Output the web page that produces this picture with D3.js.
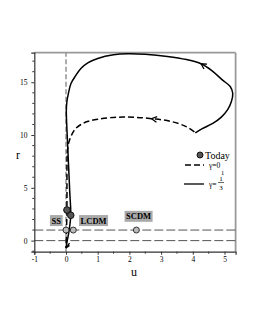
<!DOCTYPE html>
<html><head><meta charset="utf-8">
<script src="https://cdn.jsdelivr.net/npm/d3@7"></script>
<style>body{margin:0;background:#fff}svg{display:block}text{font-family:"Liberation Serif","DejaVu Serif",serif}</style>
</head><body>
<script>
// Data (u, r)
const curveGamma0 = [[4.05,10.3],[3.79,10.8],[3.3,11.3],[2.7,11.55],[2.2,11.68],[1.8,11.7],[1.4,11.65],[1.0,11.5],[0.7,11.3],[0.47,11.0],[0.3,10.6],[0.21,10.2],[0.12,9.6],[0.07,9.06],[0.04,8.3],[0.03,7.0],[0.03,5.0],[0.03,3.8],[0.03,2.9],[0.02,1.5],[0.01,0.4],[0.0,-0.7]];
const curveGamma13 = [[4.08,10.2],[4.3,10.6],[4.63,11.1],[4.9,11.7],[5.1,12.4],[5.22,13.2],[5.26,13.96],[5.18,14.6],[4.94,15.2],[4.6,16.1],[4.26,16.75],[3.8,17.15],[3.2,17.45],[2.5,17.65],[1.95,17.7],[1.5,17.6],[1.0,17.25],[0.7,16.85],[0.47,16.3],[0.3,15.6],[0.16,14.9],[0.08,14.0],[0.03,13.2],[0.01,12.3],[0.03,10.5],[0.06,8.5],[0.09,6.5],[0.12,4.5],[0.15,2.4],[0.1,1.0],[0.04,0.0],[0.0,-0.7]];
const todayPoints = [[0.03,2.9],[0.15,2.4]];
const fixedPoints = [{name:"SS",u:0.0,r:1.0},{name:"LCDM",u:0.23,r:1.0},{name:"SCDM",u:2.22,r:1.0}];
const pointLabels = [{name:"SS",u:-0.31,r:1.8},{name:"LCDM",u:0.87,r:1.8},{name:"SCDM",u:2.29,r:2.2}];
const hLines = [0,1];
const vLines = [0];
const xTicks = [-1,0,1,2,3,4,5];
const yTicks = [0,5,10,15];
const arrowIdx13 = 10, arrowIdx0 = 3;

const W=255,H=330;
const x=d3.scaleLinear().domain([-1,5.35]).range([34.3,235.6]);
const y=d3.scaleLinear().domain([-1.05,17.8]).range([251.7,52.7]);
const svg=d3.select("body").append("svg").attr("width",W).attr("height",H);

// border
svg.append("line").attr("x1",x.range()[0]).attr("x2",x.range()[1]).attr("y1",y.range()[1]).attr("y2",y.range()[1]).attr("stroke","#999").attr("stroke-width",1.8);
svg.append("line").attr("x1",x.range()[1]).attr("x2",x.range()[1]).attr("y1",y.range()[0]).attr("y2",y.range()[1]).attr("stroke","#999").attr("stroke-width",1.8);

// reference lines
hLines.forEach(v=>svg.append("line").attr("x1",x.range()[0]).attr("x2",x.range()[1]).attr("y1",y(v)).attr("y2",y(v)).attr("stroke","#555").attr("stroke-width",1).attr("stroke-dasharray","9,3"));
vLines.forEach(v=>svg.append("line").attr("x1",x(v)).attr("x2",x(v)).attr("y1",y.range()[0]).attr("y2",y.range()[1]).attr("stroke","#999").attr("stroke-width",1.6).attr("stroke-dasharray","5,2.5"));

// axes
const xAxis=d3.axisBottom(x).tickValues(xTicks).tickSize(3).tickFormat(d=>d<0?"-"+Math.abs(d):d);
const gx=svg.append("g").attr("transform",`translate(0,${y.range()[0]})`).call(xAxis);
const xMinor=d3.range(-0.5,5.3,1);
gx.selectAll(".mn").data(xMinor).enter().append("line").attr("x1",d=>x(d)).attr("x2",d=>x(d)).attr("y1",0).attr("y2",2).attr("stroke","#333");
const yAxis=d3.axisLeft(y).tickValues(yTicks).tickSize(3);
const gy=svg.append("g").attr("transform",`translate(${x.range()[0]},0)`).call(yAxis);
const yMinor=d3.range(-1,18,1).filter(v=>v%5!==0);
gy.selectAll(".mn").data(yMinor).enter().append("line").attr("x1",0).attr("x2",-2).attr("y1",d=>y(d)).attr("y2",d=>y(d)).attr("stroke","#333");
[gx,gy].forEach(g=>{g.select(".domain").attr("stroke","#333").attr("stroke-width",1.2);g.selectAll(".tick line").attr("stroke","#333");g.selectAll("text").attr("font-family","Liberation Serif").attr("font-size",7.5).attr("fill","#000");});
gx.selectAll("text").attr("dy","0.6em");
gy.selectAll("text").attr("dx","-0.1em");

// curves
const line=d3.line().x(d=>x(d[0])).y(d=>y(d[1])).curve(d3.curveCatmullRom);
svg.append("path").attr("d",line(curveGamma0)).attr("fill","none").attr("stroke","#000").attr("stroke-width",1.5).attr("stroke-dasharray","6,3");
svg.append("path").attr("d",line(curveGamma13)).attr("fill","none").attr("stroke","#000").attr("stroke-width",1.5);

function arrow(data,i){
  const p=data[i],q=data[i-1];
  const px=x(p[0]),py=y(p[1]),qx=x(q[0]),qy=y(q[1]);
  const a=Math.atan2(py-qy,px-qx);
  const L=6,s=0.5;
  const pts=[[px-L*Math.cos(a-s),py-L*Math.sin(a-s)],[px,py],[px-L*Math.cos(a+s),py-L*Math.sin(a+s)]];
  svg.append("path").attr("d",d3.line()(pts)).attr("fill","none").attr("stroke","#000").attr("stroke-width",1.3);
}
arrow(curveGamma13,arrowIdx13);
arrow(curveGamma0,arrowIdx0);
(function(){const p=curveGamma13[curveGamma13.length-1];const px=x(p[0]),py=y(p[1]);
svg.append("path").attr("d",d3.line()([[px+3.5,py-5],[px,py],[px+3.5,py-2.5]])).attr("fill","none").attr("stroke","#000").attr("stroke-width",1.3);})();

// fixed points
svg.selectAll(".fp").data(fixedPoints).enter().append("circle").attr("cx",d=>x(d.u)).attr("cy",d=>y(d.r)).attr("r",3).attr("fill","#bbb").attr("stroke","#333").attr("stroke-width",1);
svg.selectAll(".tp").data(todayPoints).enter().append("circle").attr("cx",d=>x(d[0])).attr("cy",d=>y(d[1])).attr("r",3.3).attr("fill","#555").attr("stroke","#111").attr("stroke-width",1);

// labels
pointLabels.forEach(d=>{
  const g=svg.append("g");
  const rect=g.append("rect").attr("fill","#aaa");
  const t=g.append("text").attr("x",x(d.u)).attr("y",y(d.r)).attr("text-anchor","middle").attr("dominant-baseline","middle").attr("font-size",8.5).attr("font-weight","bold").text(d.name);
  const b=t.node().getBBox();
  rect.attr("x",b.x-1.5).attr("y",b.y-0.5).attr("width",b.width+3).attr("height",b.height+1);
});

// legend
svg.append("circle").attr("cx",200).attr("cy",155).attr("r",3).attr("fill","#555").attr("stroke","#111");
svg.append("text").attr("x",205).attr("y",158.5).attr("font-size",10).text("Today");
svg.append("line").attr("x1",185).attr("x2",204).attr("y1",165).attr("y2",165).attr("stroke","#000").attr("stroke-width",1.3).attr("stroke-dasharray","6,3");
svg.append("text").attr("x",209).attr("y",167.5).attr("font-size",7.5).text("γ=0");
svg.append("text").attr("x",221).attr("y",175).attr("font-size",6.5).text("1");
svg.append("line").attr("x1",184).attr("x2",204).attr("y1",184).attr("y2",184).attr("stroke","#000").attr("stroke-width",1.3);
svg.append("text").attr("x",209).attr("y",186.5).attr("font-size",7.5).text("γ=");
svg.append("text").attr("x",221).attr("y",180.5).attr("font-size",7).attr("text-anchor","middle").text("1");
svg.append("line").attr("x1",218).attr("x2",224).attr("y1",182.5).attr("y2",182.5).attr("stroke","#000").attr("stroke-width",0.6);
svg.append("text").attr("x",221).attr("y",190).attr("font-size",7).attr("text-anchor","middle").text("3");

// axis titles
svg.append("text").attr("x",18).attr("y",159).attr("text-anchor","middle").attr("font-size",12).text("r");
svg.append("text").attr("x",134).attr("y",276).attr("text-anchor","middle").attr("font-size",12).text("u");
</script>
</body></html>
